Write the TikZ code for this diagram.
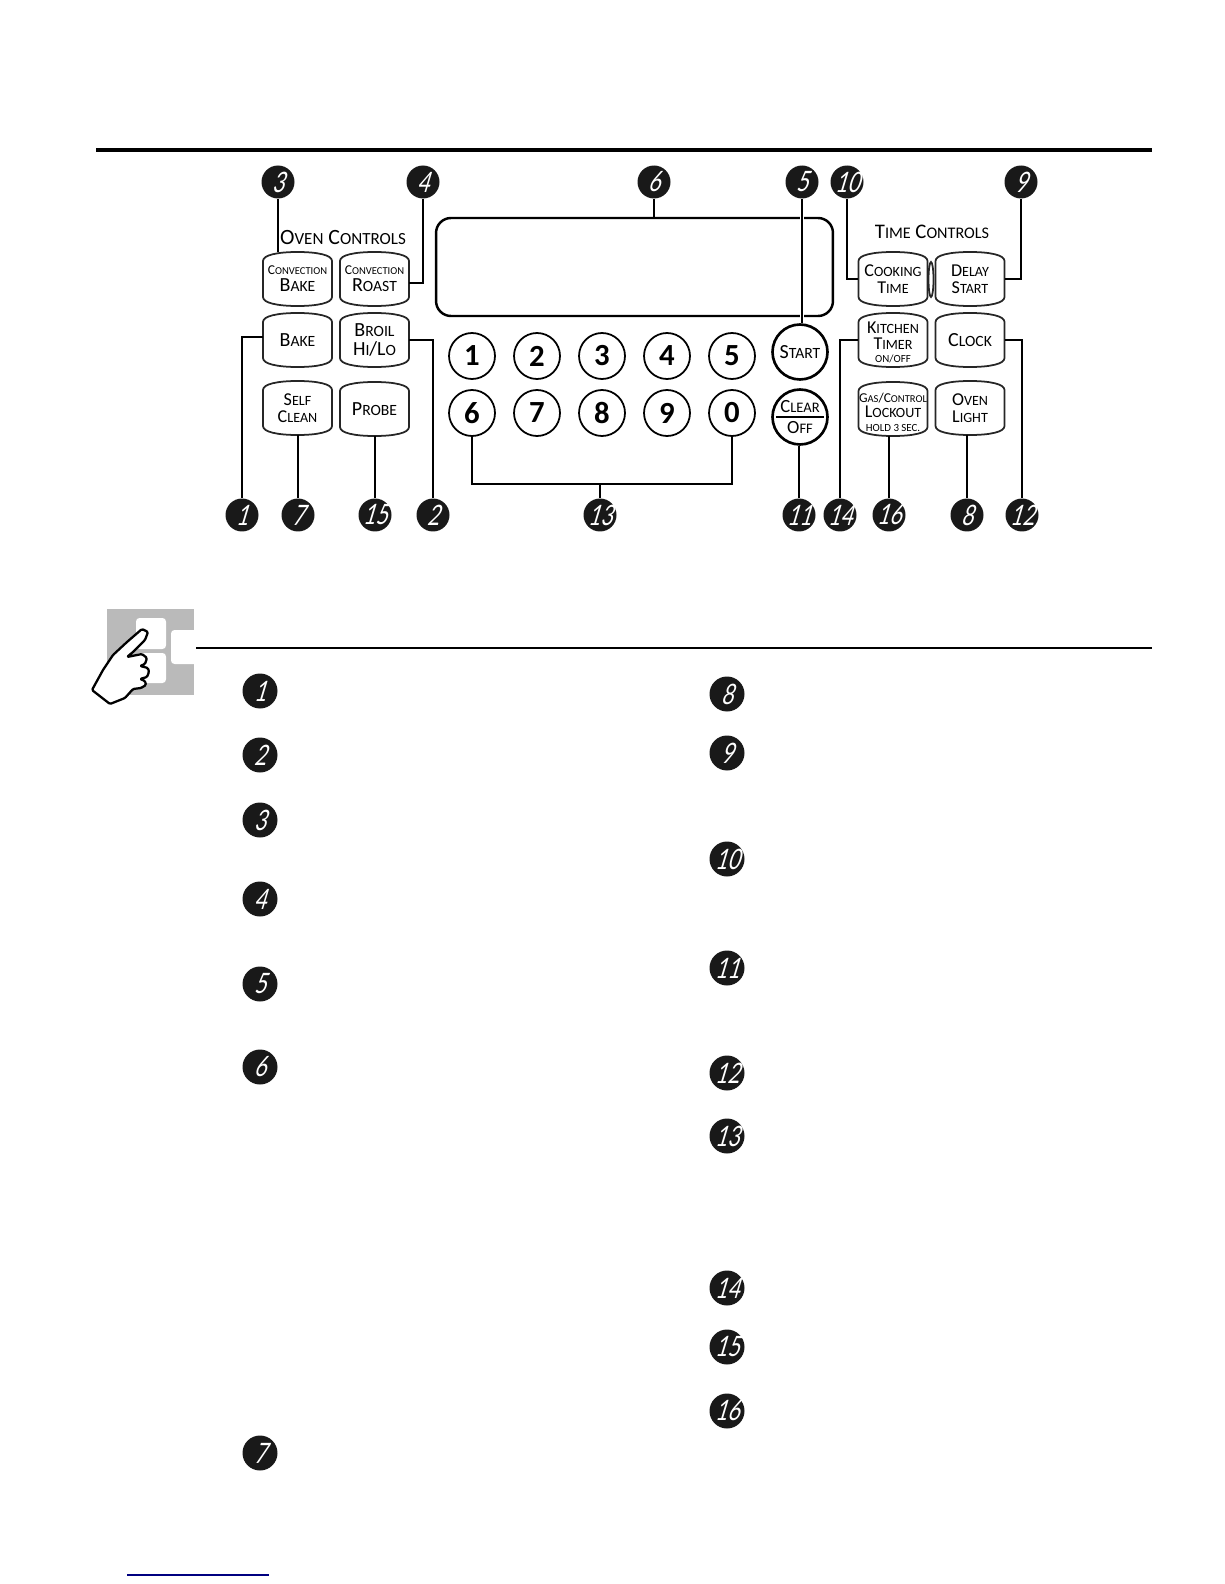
\documentclass[tikz,border=0pt]{standalone}
\usepackage{fontspec}
\setmainfont{Carlito}
\newfontfamily\lowfont[Scale=0.78]{Carlito}
\newfontfamily\badgefont[FakeSlant=0.3,FakeStretch=0.75]{Lato}
\usetikzlibrary{calc}

\newcommand{\sct}[2]{#1{\lowfont #2}}
\newcommand{\keylabel}[1]{{\fontsize{11.4}{9.6}\selectfont #1}}
\newcommand{\keysmall}[1]{{\fontsize{7.7}{9.6}\selectfont #1}}
\newcommand{\keytiny}[1]{{\fontsize{6.2}{8}\selectfont #1}}

\tikzset{
  keytext/.style={minimum width=1.38cm,minimum height=1.08cm,inner sep=0pt,align=center,font=\fontsize{10.3}{9.6}\selectfont},
  keyline/.style={line width=1pt,black!85},
  wire/.style={line width=0.7pt},
  badge/.style={circle,fill=black!90,text=white,minimum size=0.66cm,inner sep=0pt,font=\badgefont\fontsize{16}{16}\selectfont},
  listbadge/.style={badge,minimum size=0.7cm},
  digitkey/.style={circle,draw,line width=1pt,minimum size=0.92cm,inner sep=0pt,font=\bfseries\fontsize{17.5}{18}\selectfont},
  bigkey/.style={circle,draw,line width=1.5pt,minimum size=1.1cm,inner sep=0pt,align=center,font=\fontsize{10.6}{11}\selectfont}
}

% button with bulged top and bottom
\newcommand{\ctrlkey}[4]{
  \node[keytext] (#1) at (#2,#3) {#4};
  \draw[keyline,shift={(#1.center)}] (-34.5,-18) .. controls (-34.5,-24) and (-20,-27) .. (0,-27) .. controls (20,-27) and (34.5,-24) .. (34.5,-18) -- (34.5,18) .. controls (34.5,24) and (20,27) .. (0,27) .. controls (-20,27) and (-34.5,24) .. (-34.5,18) -- cycle;
}

\begin{document}
\begin{tikzpicture}[x=0.02cm,y=-0.02cm]

\useasboundingbox (0,0) rectangle (1224,1584);

\draw [line width=2pt] (96,150) -- (1152,150);

% oven controls
\node (ovenhead) at (343,238) {\fontsize{12.4}{15}\selectfont\sct{O}{VEN} \sct{C}{ONTROLS}};
\ctrlkey{kconvbake}{297.5}{279}{\keysmall{\sct{C}{ONVECTION}}\\\keylabel{\sct{B}{AKE}}}
\ctrlkey{kconvroast}{374.5}{279}{\keysmall{\sct{C}{ONVECTION}}\\\keylabel{\sct{R}{OAST}}}
\ctrlkey{kbake}{297.5}{340}{\keylabel{\sct{B}{AKE}}}
\ctrlkey{kbroil}{374.5}{340}{\keylabel{\sct{B}{ROIL}}\\[1pt]\keylabel{\sct{H}{I}/\sct{L}{O}}}
\ctrlkey{kclean}{297.5}{408}{\sct{S}{ELF}\\\sct{C}{LEAN}}
\ctrlkey{kprobe}{374.5}{409}{\keylabel{\sct{P}{ROBE}}}

% display
\node [draw,line width=1.4pt,rounded corners=8.5pt,minimum width=7.94cm,minimum height=1.96cm] (display) at (634.5,267) {};

% number pad
\node [digitkey] (n1) at (472,356) {1};
\node [digitkey] (n2) at (537,356) {2};
\node [digitkey] (n3) at (602,356) {3};
\node [digitkey] (n4) at (667,356) {4};
\node [digitkey] (n5) at (732,356) {5};
\node [digitkey] (n6) at (472,413) {6};
\node [digitkey] (n7) at (537,413) {7};
\node [digitkey] (n8) at (602,413) {8};
\node [digitkey] (n9) at (667,413) {9};
\node [digitkey] (n0) at (732,413) {0};

\node [bigkey] (kstart) at (800,352) {\keylabel{\sct{S}{TART}}};
\node [bigkey] (kclear) at (800,417) {\sct{C}{LEAR}\\[1pt]\sct{O}{FF}};
\draw [line width=0.9pt,shorten >=3pt,shorten <=3pt] (kclear.west) -- (kclear.east);

% time controls
\node (timehead) at (932,232) {\fontsize{11.8}{14}\selectfont\sct{T}{IME} \sct{C}{ONTROLS}};
\ctrlkey{kcooking}{893}{279}{\sct{C}{OOKING}\\\sct{T}{IME}}
\ctrlkey{kdelay}{970}{279}{\sct{D}{ELAY}\\\sct{S}{TART}}
\ctrlkey{ktimer}{893}{340}{\rule{0pt}{9pt}\sct{K}{ITCHEN}\\\sct{T}{IMER}\\[-2.5pt]\keytiny{ON/OFF}}
\ctrlkey{kclock}{970}{340}{\keylabel{\sct{C}{LOCK}}}
\ctrlkey{klock}{893}{409}{\rule{0pt}{9.5pt}\keysmall{\sct{G}{AS}/\sct{C}{ONTROL}}\\[-1pt]\sct{L}{OCKOUT}\\[-1.5pt]\keytiny{HOLD 3 SEC.}}
\ctrlkey{klight}{970}{408}{\sct{O}{VEN}\\\sct{L}{IGHT}}
\draw [keyline] (931,279.5) ellipse (2.5 and 17.5);

% callouts
\node [badge] (b3) at (278,182) {3};
\node [badge] (b4) at (423,182) {4};
\node [badge] (b6) at (654,182) {6};
\node [badge] (b5) at (802,182) {5};
\node [badge] (b10) at (847,182) {10};
\node [badge] (b9) at (1021,182) {9};
\node [badge] (b1) at (242,515) {1};
\node [badge] (b7) at (298,515) {7};
\node [badge] (b15) at (375,515) {15};
\node [badge] (b2) at (433,515) {2};
\node [badge] (b13) at (600,515) {13};
\node [badge] (b11) at (799,515) {11};
\node [badge] (b14) at (840,515) {14};
\node [badge] (b16) at (889,515) {16};
\node [badge] (b8) at (967,515) {8};
\node [badge] (b12) at (1022,515) {12};

\draw [wire] (b3) -- (b3 |- kconvbake.north);
\draw [wire] (b4) |- ($(kconvroast.east)+(0,4)$);
\draw [wire] (b6) -- (b6 |- display.north);
\draw [draw=white,double=black,double distance=0.7pt,line width=0.8pt] (b5) -- (b5 |- kstart.north);
\draw [wire] (b10) |- (kcooking.west);
\draw [wire] (b9) |- (kdelay.east);
\draw [wire] (b1) |- ($(kbake.west)+(0,-3)$);
\draw [wire] (b7) -- (b7 |- kclean.south);
\draw [wire] (b15) -- (b15 |- kprobe.south);
\draw [wire] (b2) |- (kbroil.east);
\draw [wire] (b11) -- (b11 |- kclear.south);
\draw [wire] (b14) |- (ktimer.west);
\draw [wire] (b16) -- (b16 |- klock.south);
\draw [wire] (b8) -- (b8 |- klight.south);
\draw [wire] (b12) |- (kclock.east);

\coordinate (padjoin) at (600,484);
\draw [wire] (n6) |- (padjoin) -| (n0);
\draw [wire] (padjoin) -- (b13);

% hand icon
\fill [black!27] (107,609) rectangle (194,695);
\fill [white,rounded corners=2pt] (136,618) rectangle (166,649);
\fill [white,rounded corners=2pt] (136,653) rectangle (166,683);
\fill [white,rounded corners=2pt] (171,630) rectangle (200,664);
\fill [white] (190,630) rectangle (200,664);
\draw [line width=1.3pt,line join=round,fill=white,rounded corners=0.7pt] (92,690) -- (110,704) -- (125,698) -- (133,689) -- (141,688) -- (146,685) -- (145,681) -- (140,679) -- (147,677) -- (149,672) -- (148,668) -- (140,666) -- (145,664) -- (147,658) -- (142,654) -- (127,657) -- (133,652) -- (145,640) -- (148,632) -- (142,629) -- (127,642) -- (113,655) -- (103,670) -- cycle;
\draw [line width=0.9pt] (196,648) -- (1152,648);

% list markers
\node [listbadge] (l1) at (260,691) {1};
\node [listbadge] (l2) at (260,755) {2};
\node [listbadge] (l3) at (260,820) {3};
\node [listbadge] (l4) at (260,899) {4};
\node [listbadge] (l5) at (260,984) {5};
\node [listbadge] (l6) at (260,1067) {6};
\node [listbadge] (l7) at (260,1453) {7};
\node [listbadge] (l8) at (727,694) {8};
\node [listbadge] (l9) at (727,753) {9};
\node [listbadge] (l10) at (727,859) {10};
\node [listbadge] (l11) at (727,968) {11};
\node [listbadge] (l12) at (727,1073) {12};
\node [listbadge] (l13) at (727,1136) {13};
\node [listbadge] (l14) at (727,1288) {14};
\node [listbadge] (l15) at (727,1347) {15};
\node [listbadge] (l16) at (727,1411) {16};

\draw [line width=0.9pt,blue!50!black] (127,1575) -- (269,1575);

\end{tikzpicture}
\end{document}
